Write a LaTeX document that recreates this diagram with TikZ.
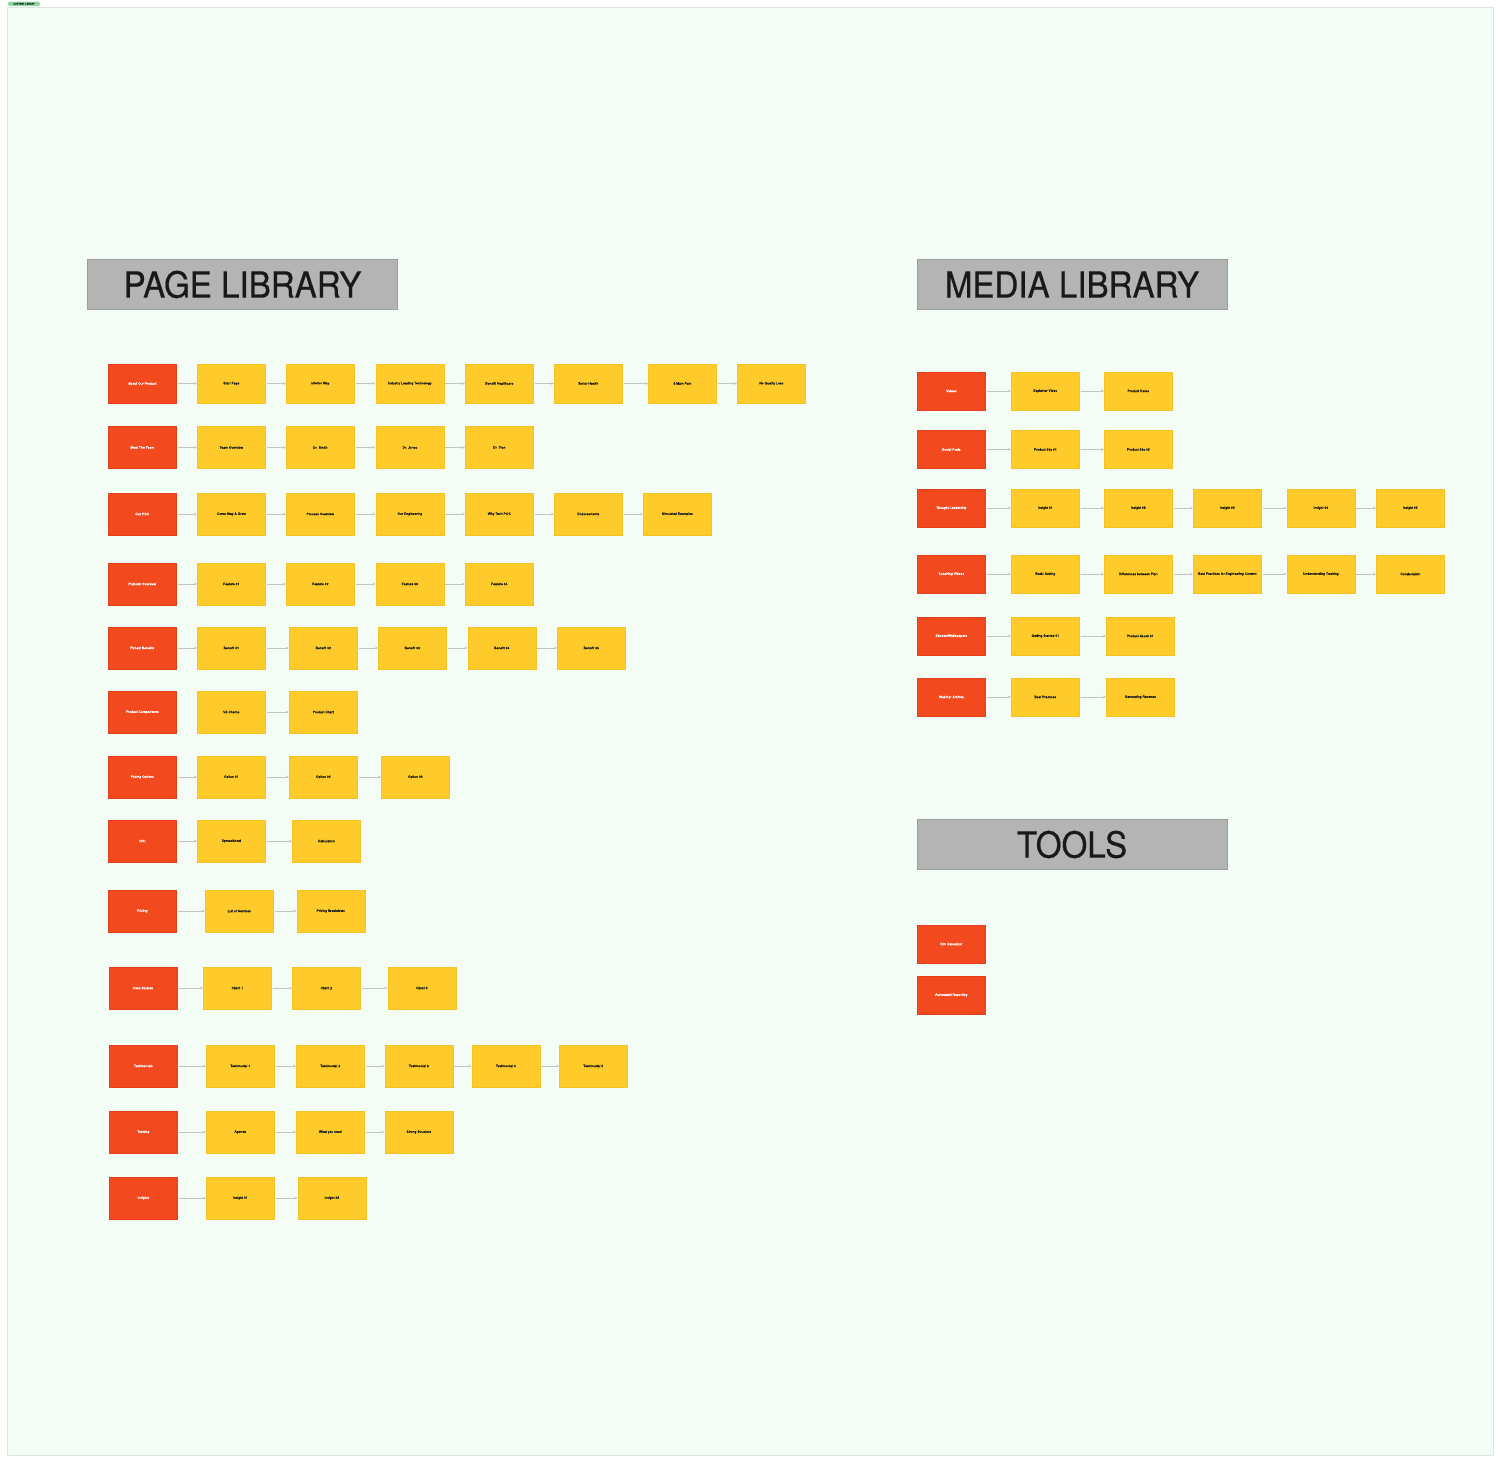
\documentclass[tikz,border=0pt]{standalone}
\usepackage{fontspec}
\setmainfont{TeX Gyre Heros}
\newfontfamily\hdrfont[FakeBold=0.5]{TeX Gyre Heros}
\newfontfamily\boxfont[FakeBold=0.25]{TeX Gyre Heros}
\usetikzlibrary{arrows.meta}
\definecolor{bgpanel}{HTML}{F3FCF5}
\definecolor{panelline}{HTML}{DDE5DE}
\definecolor{redfill}{HTML}{F2491F}
\definecolor{redline}{HTML}{E0401A}
\definecolor{yelfill}{HTML}{FFCB2B}
\definecolor{yelline}{HTML}{F5C225}
\definecolor{hdrfill}{HTML}{B4B4B4}
\definecolor{hdrline}{HTML}{9C9C9C}
\definecolor{connc}{HTML}{C4C4C4}
\definecolor{tagfill}{HTML}{8FD8A6}
\tikzset{
  redbox/.style={draw=redline, line width=0.6pt, fill=redfill, minimum width=68pt, inner sep=0pt,
    text=white, font=\boxfont\fontsize{3.4}{4}\selectfont},
  yelbox/.style={draw=yelline, line width=0.6pt, fill=yelfill, minimum width=68pt, inner sep=0pt,
    text=black!90, font=\boxfont\fontsize{3.4}{4}\selectfont},
  hdrbox/.style={draw=hdrline, line width=1pt, fill=hdrfill, minimum width=310pt, minimum height=50pt,
    inner sep=0pt, text=black!90, font=\hdrfont\fontsize{36}{40}\selectfont},
  conn/.style={draw=connc, line width=0.7pt, -{Stealth[length=3pt,width=2.6pt]}, shorten <=1pt},
}
% #1 id, #2 centre y, #3 height, #4 red left x, #5 red label, #6 list xleft/label, #7 first connected index
\newcommand\librow[7]{%
  \node[redbox, minimum height=#3pt, anchor=west] (#1-0) at (#4,#2) {#5};
  \foreach \xx/\lab [count=\i, remember=\i as \j (initially 0)] in {#6} {
    \node[yelbox, minimum height=#3pt, anchor=west] (#1-\i) at (\xx,#2) {\lab};
    \ifnum\j<#7\relax\else\draw[conn] (#1-\j) -- (#1-\i);\fi
  }%
}
\begin{document}
\begin{tikzpicture}[x=1pt,y=-1pt]
\useasboundingbox (0,0) rectangle (1500,1462);
\fill[white] (0,0) rectangle (1500,1462);
\draw[panelline, fill=bgpanel, line width=0.8pt] (7,7) rectangle (1493,1455);
\node[fill=tagfill, rounded corners=1.5pt, minimum width=32pt, minimum height=4.5pt, inner sep=0pt,
  text=black!85, font=\boxfont\fontsize{2.3}{2.5}\selectfont] (tag) at (24,3.8) {CONTENT LIBRARY};

% headers
\node[hdrbox] (hpage) at (242.5,284.5) {\scalebox{0.92}[1]{PAGE LIBRARY}};
\node[hdrbox] (hmedia) at (1072,284.5) {\scalebox{0.92}[1]{MEDIA LIBRARY}};
\node[hdrbox] (htools) at (1072,844.5) {\scalebox{0.92}[1]{TOOLS}};

% page library
\librow{p1}{383.5}{39}{108}{About Our Product}{197/Start Page,286/Inferior Way,375.5/Industry Leading Technology,465/Benefit Healthcare,554/Better Health,648/3 Main Pain,737/No Quality Loss}{0}
\librow{p2}{447.5}{42}{108}{Meet The Team}{197/Team Overview,286/Dr. Smith,375.5/Dr. Jones,465/Dr. Tran}{0}
\librow{p3}{514}{42}{108}{Our POC}{197/Come Stay \& Grow,286/Process Overview,375.5/Our Engineering,465/Why Tech POC,554/Endorsements,643/Simulated Examples}{0}
\librow{p4}{584}{42}{108}{Platform Overview}{197/Feature 01,286/Feature 02,375.5/Feature 03,465/Feature 04}{0}
\librow{p5}{648}{42}{108}{Patient Benefits}{197/Benefit 01,289/Benefit 02,378/Benefit 03,467.5/Benefit 04,557/Benefit 05}{0}
\librow{p6}{712}{42}{108}{Product Comparisons}{197/VS Chemo,289/Product Chart}{1}
\librow{p7}{777}{42}{108}{Pricing Options}{197/Option 01,289/Option 02,381/Option 03}{0}
\librow{p8}{841}{42}{108}{ROI}{197/Spreadsheet,292/Calculation}{0}
\librow{p9}{911}{42}{108}{Pricing}{205/List of Services,296.5/Pricing Breakdown}{0}
\librow{p10}{988}{42}{108.5}{Case Studies}{203/Client 1,292/Client 2,387.5/Client 3}{0}
\librow{p11}{1066}{42}{109}{Testimonials}{206/Testimonial 1,296/Testimonial 2,384.5/Testimonial 3,471.5/Testimonial 4,559/Testimonial 5}{0}
\librow{p12}{1132}{42}{109}{Training}{206/Agenda,296/What you need,384.5/Strong Structure}{0}
\librow{p13}{1198}{42}{109}{Insights}{206/Insight 01,297.5/Insight 02}{0}

% media library
\librow{m1}{391}{38}{917}{Videos}{1011/Explainer Video,1104/Product Demo}{0}
\librow{m2}{449.5}{38}{917}{Social Posts}{1011/Product 30s 01,1104/Product 30s 02}{0}
\librow{m3}{508}{38}{917}{Thought Leadership}{1011/Insight 01,1104/Insight 02,1193/Insight 03,1286.5/Insight 04,1376/Insight 05}{0}
\librow{m4}{574}{38}{917}{Coaching Videos}{1011/Basic Setting,1104/Differences between Plan,1193/Best Practices for Engineering Content,1286.5/Understanding Tracking,1376/Collaboration}{0}
\librow{m5}{636}{38}{917}{Ebooks/Whitepapers}{1011/Getting Started 01,1106/Product ebook 01}{0}
\librow{m6}{697}{38}{917}{Webinar Archive}{1011/Best Practices,1106/Generating Revenue}{0}

% tools
\node[redbox, minimum height=38pt, anchor=west] (t1) at (917,944) {ROI Calculator};
\node[redbox, minimum height=38pt, anchor=west] (t2) at (917,995) {Automated Reporting};
\end{tikzpicture}
\end{document}
